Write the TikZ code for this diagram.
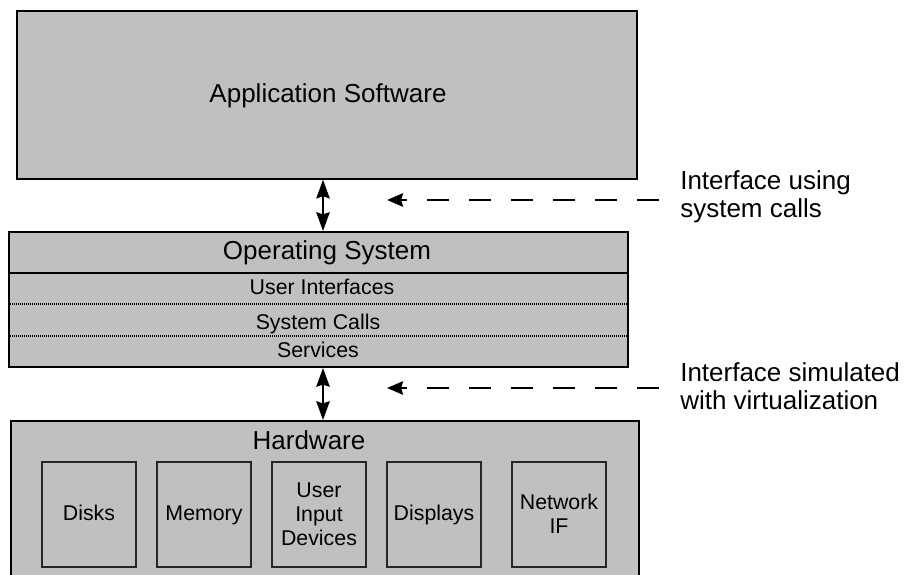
\documentclass[tikz,border=0pt]{standalone}
\usepackage{fontspec}
\setmainfont{Liberation Sans}
\usetikzlibrary{positioning,arrows.meta}
\definecolor{boxgray}{RGB}{192,192,192}

\begin{document}
\begin{tikzpicture}[
    x=0.75pt, y=-0.75pt,
    node distance=14.25pt,
    layer/.style={rectangle, draw=black, fill=boxgray, line width=1.5pt, inner sep=0pt},
    device/.style={rectangle, draw=black!85, fill=boxgray, line width=1.5pt, minimum width=70.5pt, minimum height=78.75pt, align=center, inner sep=1pt, font=\fontsize{16}{18}\selectfont},
    oneline/.style={text height=11.5pt, text depth=2pt},
    headline/.style={anchor=base, inner sep=0pt, font=\fontsize{19.5}{23}\selectfont},
    sublabel/.style={anchor=base, inner sep=0pt, font=\fontsize{16}{19}\selectfont},
    sidenote/.style={anchor=west, align=left, inner sep=0pt, font=\fontsize{19.5}{21}\selectfont},
    divider/.style={line width=1.5pt},
    sepline/.style={line width=1pt, dash pattern=on 1pt off 0.5pt},
    arrow/.style={{Stealth[length=14pt,width=10pt,inset=1.5pt]}-{Stealth[length=14pt,width=10pt,inset=1.5pt]}, line width=1.6pt},
    dasharrow/.style={-{Stealth[length=12pt,width=10pt,inset=1.5pt]}, line width=2pt, dash pattern=on 16.5pt off 15pt}
]
    \path[use as bounding box, clip] (0,0) rectangle (905,574);

    % application layer
    \node[layer, line width=1pt, minimum width=465pt, minimum height=126pt] (app) at (327,95) {};
    \node[headline] (apptext) at (328,103) {Application Software};

    % operating system
    \node[layer, minimum width=464.25pt, minimum height=101.25pt] (os) at (318.5,299.5) {};
    \node[headline] (ostitle) at (327,259) {Operating System};
    \node[sublabel] (ui) at (322,294) {User Interfaces};
    \node[sublabel] (calls) at (318,329) {System Calls};
    \node[sublabel] (services) at (318,357) {Services};
    \draw[divider] (os.west |- 0,273) -- (os.east |- 0,273);
    \draw[sepline] (os.west |- 0,304) -- (os.east |- 0,304);
    \draw[sepline] (os.west |- 0,336) -- (os.east |- 0,336);

    % hardware
    \node[layer, minimum width=471pt, minimum height=135pt, anchor=north] (hw) at (325,420) {};
    \node[headline] (hwtitle) at (309,449) {Hardware};
    \node[device, oneline] (disks) at (89,514) {Disks};
    \node[device, oneline, right=of disks] (memory) {Memory};
    \node[device, right=of memory] (input) {User\\Input\\Devices};
    \node[device, oneline, right=of input] (displays) {Displays};
    \node[device, right=21.75pt of displays] (network) {Network\\IF};

    % interfaces
    \coordinate (axis) at (323,0);
    \draw[arrow] (app.south -| axis) -- (os.north -| axis);
    \draw[arrow] (os.south -| axis) -- (hw.north -| axis);

    \coordinate (calltail) at (659,200);
    \coordinate (callhead) at (387,200);
    \coordinate (virttail) at (659,388);
    \coordinate (virthead) at (387,388);
    \draw[dasharrow] (calltail) -- (callhead);
    \draw[dasharrow] (virttail) -- (virthead);

    \node[sidenote] (calllabel) at (680,197) {Interface using\\system calls};
    \node[sidenote] (virtlabel) at (680,386) {Interface simulated\\with virtualization};
\end{tikzpicture}
\end{document}
